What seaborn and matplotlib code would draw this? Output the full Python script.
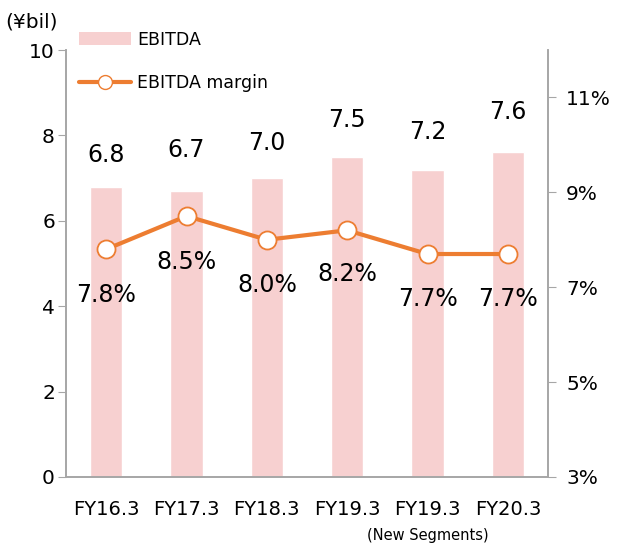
import matplotlib
matplotlib.use("Agg")
import matplotlib.pyplot as plt
import seaborn as sns
import pandas as pd
from matplotlib.patches import Patch
from matplotlib.lines import Line2D

categories = ["FY16.3", "FY17.3", "FY18.3", "FY19.3", "FY19.3 ", "FY20.3"]
tick_labels = ["FY16.3", "FY17.3", "FY18.3", "FY19.3", "FY19.3", "FY20.3"]
ebitda = [6.8, 6.7, 7.0, 7.5, 7.2, 7.6]
margin = [7.8, 8.5, 8.0, 8.2, 7.7, 7.7]

bar_color = "#F7D0D0"
line_color = "#ED7D31"
axis_color = "#A6A6A6"

sns.set_style("white")
plt.rcParams["font.family"] = ["DejaVu Sans"]
plt.rcParams["text.color"] = "black"
plt.rcParams["xtick.color"] = "black"
plt.rcParams["ytick.color"] = "black"

df = pd.DataFrame({"period": categories, "ebitda": ebitda,
                   "margin": margin, "pos": range(len(categories))})

fig = plt.figure(figsize=(6.21, 5.43), dpi=100)
ax = fig.add_axes([66 / 621, 66 / 543, 482 / 621, 427 / 543])

sns.barplot(data=df, x="period", y="ebitda", color=bar_color,
            width=0.4, saturation=1, ax=ax)
ax.set_ylim(0, 10)
ax.set_xlim(-0.5, len(categories) - 0.5)
ax.set_yticks(range(0, 11, 2))
ax.set_xlabel("")
ax.set_ylabel("")
ax.set_xticks([i - 0.5 for i in range(len(categories) + 1)])
ax.set_xticklabels([])
ax.tick_params(axis="x", direction="out", length=11, color=axis_color, width=1)
ax.tick_params(axis="y", direction="out", length=6, color=axis_color,
               labelsize=14.5, pad=2)
# category labels sit between the tick marks
for i, lab in enumerate(tick_labels):
    ax.text(i, -0.55, lab, ha="center", va="top", fontsize=14)
ax.text(4, -1.2, "(New Segments)", ha="center", va="top", fontsize=10.5)

for spine in ["left", "bottom", "right"]:
    ax.spines[spine].set_color(axis_color)
    ax.spines[spine].set_linewidth(1.2)
ax.spines["top"].set_visible(False)

# labels were placed by hand in the original, so offsets vary a little
bar_offsets = [0.75, 0.96, 0.82, 0.87, 0.87, 0.94]
for i, v in enumerate(ebitda):
    ax.text(i, v + bar_offsets[i], f"{v:.1f}", ha="center", va="center",
            fontsize=17)

ax2 = ax.twinx()
sns.lineplot(data=df, x="pos", y="margin", color=line_color, linewidth=3,
             marker="o", markersize=13, markerfacecolor="white",
             markeredgecolor=line_color, markeredgewidth=1.3, ax=ax2)
ax2.set_ylim(3, 12)
ax2.set_yticks([3, 5, 7, 9, 11])
ax2.set_yticklabels([f"{t}%" for t in [3, 5, 7, 9, 11]])
ax2.set_xlabel("")
ax2.set_ylabel("")
ax2.tick_params(axis="y", direction="out", length=6, color=axis_color,
                labelsize=14.5, pad=7)
for spine in ["left", "bottom", "right"]:
    ax2.spines[spine].set_color(axis_color)
    ax2.spines[spine].set_linewidth(1.2)
ax2.spines["top"].set_visible(False)

pct_offsets = [-0.97, -0.97, -0.95, -0.93, -0.95, -0.95]
for i, v in enumerate(margin):
    ax2.text(i, v + pct_offsets[i], f"{v:.1f}%", ha="center", va="center",
             fontsize=17)

handles = [Patch(facecolor=bar_color, edgecolor="none"),
           Line2D([0], [0], color=line_color, linewidth=3, marker="o",
                  markersize=10, markerfacecolor="white",
                  markeredgecolor=line_color)]
ax2.legend(handles, ["EBITDA", "EBITDA margin"], loc="upper left",
           bbox_to_anchor=(0.027, 1.045), borderaxespad=0, borderpad=0,
           frameon=False, fontsize=12.5, handlelength=3.0, handleheight=0.75,
           labelspacing=1.45, handletextpad=0.35)

fig.text(5 / 621, 1 - 22 / 543, "(¥bil)", ha="left", va="center", fontsize=14.5)

fig.savefig("out.png", dpi=100)
